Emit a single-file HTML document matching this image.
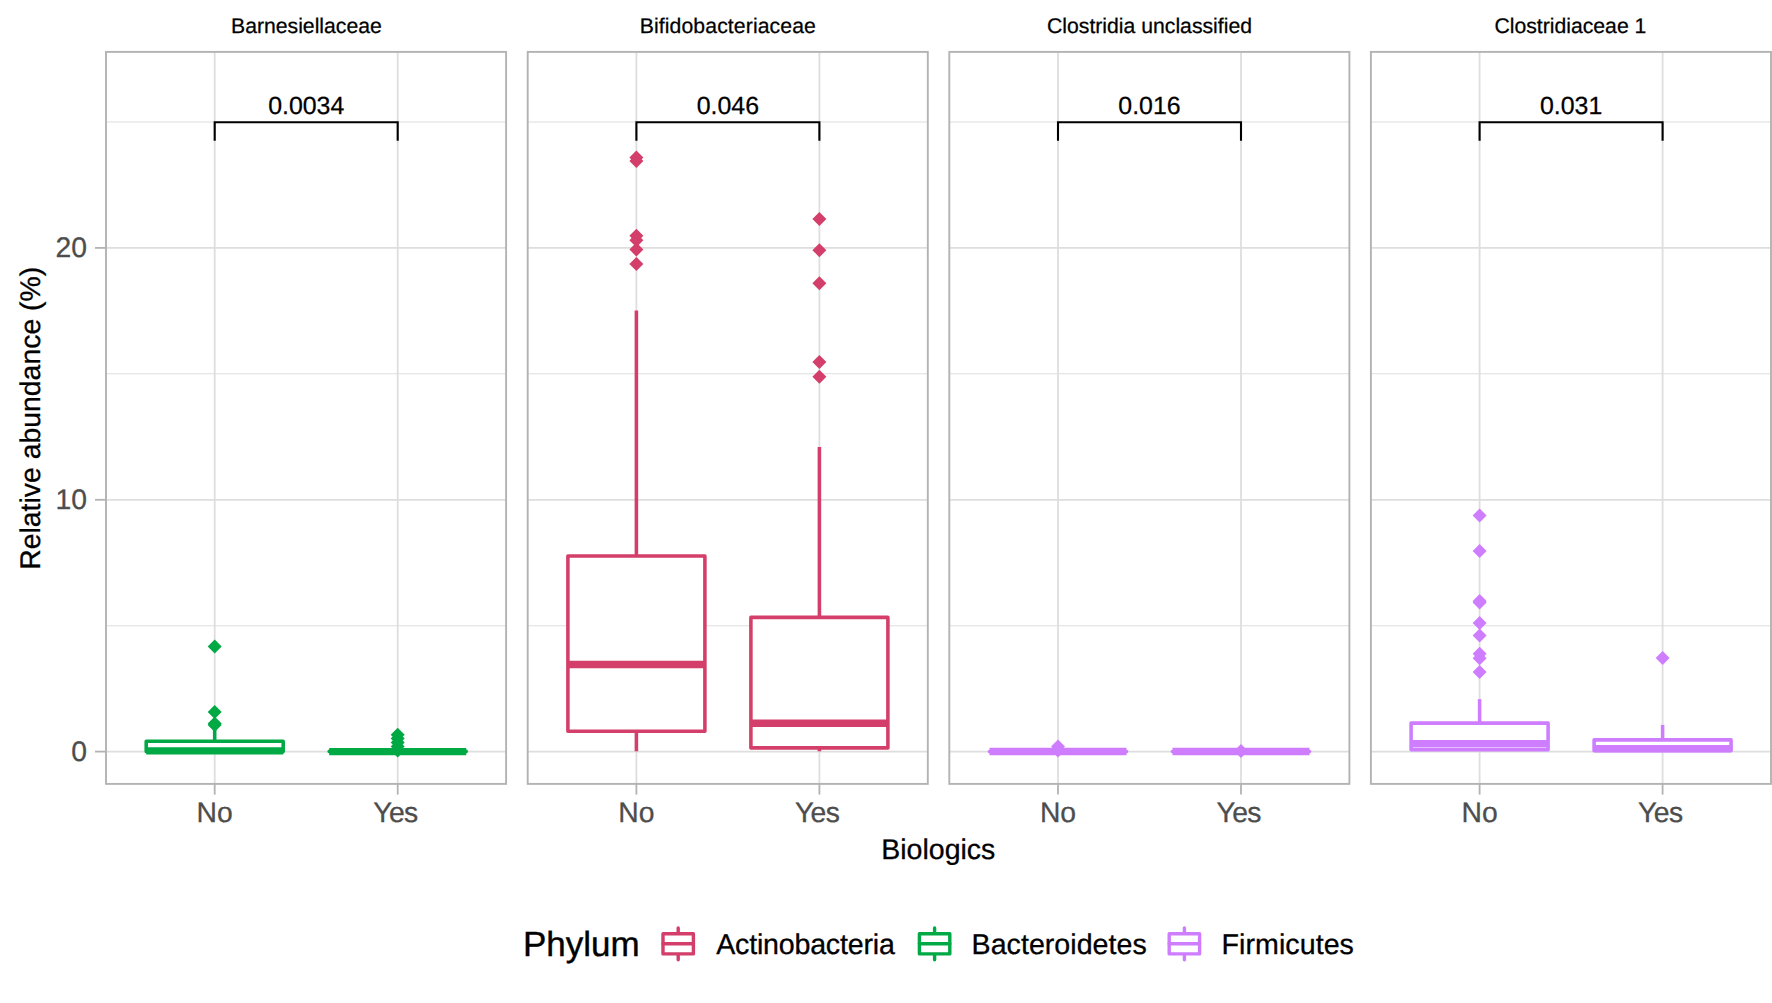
<!DOCTYPE html>
<html lang="en">
<head>
<meta charset="utf-8">
<title>Relative abundance by Biologics</title>
<style>
html,body{margin:0;padding:0;background:#fff;}
body{width:1772px;height:1003px;overflow:hidden;}
svg{display:block;}
svg text{font-family:"Liberation Sans", Arial, Helvetica, sans-serif;text-rendering:geometricPrecision;}
.strip{font-size:21.2px;fill:#000;stroke:#000;stroke-width:0.25px;text-anchor:middle;}
.tick{font-size:28.3px;fill:#4D4D4D;stroke:#4D4D4D;stroke-width:0.3px;}
.atitle{font-size:28.5px;fill:#000;stroke:#000;stroke-width:0.3px;text-anchor:middle;}
.pv{font-size:24.9px;fill:#000;stroke:#000;stroke-width:0.25px;text-anchor:middle;}
.ltitle{font-size:35.0px;fill:#000;stroke:#000;stroke-width:0.4px;}
.ltext{font-size:28.6px;fill:#000;stroke:#000;stroke-width:0.3px;}
</style>
</head>
<body>
<svg width="1772" height="1003" viewBox="0 0 1772 1003">
<rect x="0" y="0" width="1772" height="1003" fill="#ffffff"/>
<g>
<line x1="106.0" y1="625.7" x2="506.1" y2="625.7" stroke="#DEDEDE" stroke-width="1.1"/>
<line x1="106.0" y1="373.8" x2="506.1" y2="373.8" stroke="#DEDEDE" stroke-width="1.1"/>
<line x1="106.0" y1="122.0" x2="506.1" y2="122.0" stroke="#DEDEDE" stroke-width="1.1"/>
<line x1="106.0" y1="751.6" x2="506.1" y2="751.6" stroke="#DEDEDE" stroke-width="1.8"/>
<line x1="106.0" y1="499.8" x2="506.1" y2="499.8" stroke="#DEDEDE" stroke-width="1.8"/>
<line x1="106.0" y1="247.9" x2="506.1" y2="247.9" stroke="#DEDEDE" stroke-width="1.8"/>
<line x1="214.7" y1="51.9" x2="214.7" y2="783.9" stroke="#DEDEDE" stroke-width="1.8"/>
<line x1="397.7" y1="51.9" x2="397.7" y2="783.9" stroke="#DEDEDE" stroke-width="1.8"/>
<line x1="214.7" y1="729.5" x2="214.7" y2="741.2" stroke="#00A944" stroke-width="3.56"/>
<rect x="146.2" y="741.20" width="137.0" height="10.40" fill="#ffffff" stroke="#00A944" stroke-width="3.56" stroke-linejoin="round"/>
<line x1="146.2" y1="750.90" x2="283.2" y2="750.90" stroke="#00A944" stroke-width="7.40"/>
<path d="M214.7 639.6L221.7 646.6L214.7 653.6L207.7 646.6Z" fill="#00A944"/>
<path d="M214.7 704.9L221.7 711.9L214.7 718.9L207.7 711.9Z" fill="#00A944"/>
<path d="M214.7 716.6L221.7 723.6L214.7 730.6L207.7 723.6Z" fill="#00A944"/>
<path d="M214.7 718.0L221.7 725.0L214.7 732.0L207.7 725.0Z" fill="#00A944"/>
<rect x="329.2" y="751.40" width="137.0" height="0.20" fill="#ffffff" stroke="#00A944" stroke-width="3.56" stroke-linejoin="round"/>
<line x1="329.2" y1="751.60" x2="466.2" y2="751.60" stroke="#00A944" stroke-width="7.40"/>
<path d="M397.7 727.8L404.7 734.8L397.7 741.8L390.7 734.8Z" fill="#00A944"/>
<path d="M397.7 731.5L404.7 738.5L397.7 745.5L390.7 738.5Z" fill="#00A944"/>
<path d="M397.7 735.5L404.7 742.5L397.7 749.5L390.7 742.5Z" fill="#00A944"/>
<path d="M397.7 739.5L404.7 746.5L397.7 753.5L390.7 746.5Z" fill="#00A944"/>
<path d="M397.7 743.4L404.7 750.4L397.7 757.4L390.7 750.4Z" fill="#00A944"/>
<path d="M214.7 140.8V122.2H397.7V140.8" fill="none" stroke="#000" stroke-width="2.1"/>
<text class="pv" x="306.2" y="114.3">0.0034</text>
<rect x="106.0" y="51.9" width="400.1" height="732.0" fill="none" stroke="#B3B3B3" stroke-width="1.9"/>
<text class="strip" x="306.4" y="33.3">Barnesiellaceae</text>
<line x1="214.7" y1="783.9" x2="214.7" y2="794.6" stroke="#B3B3B3" stroke-width="1.8"/>
<text class="tick" text-anchor="middle" x="214.7" y="822.4">No</text>
<line x1="397.7" y1="783.9" x2="397.7" y2="794.6" stroke="#B3B3B3" stroke-width="1.8"/>
<text class="tick" text-anchor="middle" style="letter-spacing:-0.6px" x="395.4" y="822.4">Yes</text>
</g>
<g>
<line x1="527.7" y1="625.7" x2="927.8" y2="625.7" stroke="#DEDEDE" stroke-width="1.1"/>
<line x1="527.7" y1="373.8" x2="927.8" y2="373.8" stroke="#DEDEDE" stroke-width="1.1"/>
<line x1="527.7" y1="122.0" x2="927.8" y2="122.0" stroke="#DEDEDE" stroke-width="1.1"/>
<line x1="527.7" y1="751.6" x2="927.8" y2="751.6" stroke="#DEDEDE" stroke-width="1.8"/>
<line x1="527.7" y1="499.8" x2="927.8" y2="499.8" stroke="#DEDEDE" stroke-width="1.8"/>
<line x1="527.7" y1="247.9" x2="927.8" y2="247.9" stroke="#DEDEDE" stroke-width="1.8"/>
<line x1="636.4" y1="51.9" x2="636.4" y2="783.9" stroke="#DEDEDE" stroke-width="1.8"/>
<line x1="819.4" y1="51.9" x2="819.4" y2="783.9" stroke="#DEDEDE" stroke-width="1.8"/>
<line x1="636.4" y1="310.5" x2="636.4" y2="556.0" stroke="#D33F6A" stroke-width="3.56"/>
<line x1="636.4" y1="731.2" x2="636.4" y2="751.3" stroke="#D33F6A" stroke-width="3.56"/>
<rect x="567.9" y="556.00" width="137.0" height="175.20" fill="#ffffff" stroke="#D33F6A" stroke-width="3.56" stroke-linejoin="round"/>
<line x1="567.9" y1="664.50" x2="704.9" y2="664.50" stroke="#D33F6A" stroke-width="7.40"/>
<path d="M636.4 150.5L643.4 157.5L636.4 164.5L629.4 157.5Z" fill="#D33F6A"/>
<path d="M636.4 153.9L643.4 160.9L636.4 167.9L629.4 160.9Z" fill="#D33F6A"/>
<path d="M636.4 228.7L643.4 235.7L636.4 242.7L629.4 235.7Z" fill="#D33F6A"/>
<path d="M636.4 233.3L643.4 240.3L636.4 247.3L629.4 240.3Z" fill="#D33F6A"/>
<path d="M636.4 242.6L643.4 249.6L636.4 256.6L629.4 249.6Z" fill="#D33F6A"/>
<path d="M636.4 257.0L643.4 264.0L636.4 271.0L629.4 264.0Z" fill="#D33F6A"/>
<line x1="819.4" y1="446.9" x2="819.4" y2="617.4" stroke="#D33F6A" stroke-width="3.56"/>
<line x1="819.4" y1="747.9" x2="819.4" y2="751.3" stroke="#D33F6A" stroke-width="3.56"/>
<rect x="750.9" y="617.40" width="137.0" height="130.50" fill="#ffffff" stroke="#D33F6A" stroke-width="3.56" stroke-linejoin="round"/>
<line x1="750.9" y1="723.30" x2="887.9" y2="723.30" stroke="#D33F6A" stroke-width="7.40"/>
<path d="M819.4 211.9L826.4 218.9L819.4 225.9L812.4 218.9Z" fill="#D33F6A"/>
<path d="M819.4 243.2L826.4 250.2L819.4 257.2L812.4 250.2Z" fill="#D33F6A"/>
<path d="M819.4 276.3L826.4 283.3L819.4 290.3L812.4 283.3Z" fill="#D33F6A"/>
<path d="M819.4 354.9L826.4 361.9L819.4 368.9L812.4 361.9Z" fill="#D33F6A"/>
<path d="M819.4 369.8L826.4 376.8L819.4 383.8L812.4 376.8Z" fill="#D33F6A"/>
<path d="M636.4 140.8V122.2H819.4V140.8" fill="none" stroke="#000" stroke-width="2.1"/>
<text class="pv" x="727.9" y="114.3">0.046</text>
<rect x="527.7" y="51.9" width="400.1" height="732.0" fill="none" stroke="#B3B3B3" stroke-width="1.9"/>
<text class="strip" x="727.8" y="33.3" textLength="176.2">Bifidobacteriaceae</text>
<line x1="636.4" y1="783.9" x2="636.4" y2="794.6" stroke="#B3B3B3" stroke-width="1.8"/>
<text class="tick" text-anchor="middle" x="636.4" y="822.4">No</text>
<line x1="819.4" y1="783.9" x2="819.4" y2="794.6" stroke="#B3B3B3" stroke-width="1.8"/>
<text class="tick" text-anchor="middle" style="letter-spacing:-0.6px" x="817.1" y="822.4">Yes</text>
</g>
<g>
<line x1="949.3" y1="625.7" x2="1349.4" y2="625.7" stroke="#DEDEDE" stroke-width="1.1"/>
<line x1="949.3" y1="373.8" x2="1349.4" y2="373.8" stroke="#DEDEDE" stroke-width="1.1"/>
<line x1="949.3" y1="122.0" x2="1349.4" y2="122.0" stroke="#DEDEDE" stroke-width="1.1"/>
<line x1="949.3" y1="751.6" x2="1349.4" y2="751.6" stroke="#DEDEDE" stroke-width="1.8"/>
<line x1="949.3" y1="499.8" x2="1349.4" y2="499.8" stroke="#DEDEDE" stroke-width="1.8"/>
<line x1="949.3" y1="247.9" x2="1349.4" y2="247.9" stroke="#DEDEDE" stroke-width="1.8"/>
<line x1="1058.0" y1="51.9" x2="1058.0" y2="783.9" stroke="#DEDEDE" stroke-width="1.8"/>
<line x1="1241.0" y1="51.9" x2="1241.0" y2="783.9" stroke="#DEDEDE" stroke-width="1.8"/>
<rect x="989.5" y="751.50" width="137.0" height="0.10" fill="#ffffff" stroke="#CE7DFF" stroke-width="3.56" stroke-linejoin="round"/>
<line x1="989.5" y1="751.55" x2="1126.5" y2="751.55" stroke="#CE7DFF" stroke-width="7.40"/>
<path d="M1058.0 739.6L1065.0 746.6L1058.0 753.6L1051.0 746.6Z" fill="#CE7DFF"/>
<path d="M1058.0 743.5L1065.0 750.5L1058.0 757.5L1051.0 750.5Z" fill="#CE7DFF"/>
<rect x="1172.5" y="751.50" width="137.0" height="0.10" fill="#ffffff" stroke="#CE7DFF" stroke-width="3.56" stroke-linejoin="round"/>
<line x1="1172.5" y1="751.55" x2="1309.5" y2="751.55" stroke="#CE7DFF" stroke-width="7.40"/>
<path d="M1241.0 744.1L1248.0 751.1L1241.0 758.1L1234.0 751.1Z" fill="#CE7DFF"/>
<path d="M1058.0 140.8V122.2H1241.0V140.8" fill="none" stroke="#000" stroke-width="2.1"/>
<text class="pv" x="1149.5" y="114.3">0.016</text>
<rect x="949.3" y="51.9" width="400.1" height="732.0" fill="none" stroke="#B3B3B3" stroke-width="1.9"/>
<text class="strip" x="1149.5" y="33.3">Clostridia unclassified</text>
<line x1="1058.0" y1="783.9" x2="1058.0" y2="794.6" stroke="#B3B3B3" stroke-width="1.8"/>
<text class="tick" text-anchor="middle" x="1058.0" y="822.4">No</text>
<line x1="1241.0" y1="783.9" x2="1241.0" y2="794.6" stroke="#B3B3B3" stroke-width="1.8"/>
<text class="tick" text-anchor="middle" style="letter-spacing:-0.6px" x="1238.7" y="822.4">Yes</text>
</g>
<g>
<line x1="1370.9" y1="625.7" x2="1771.0" y2="625.7" stroke="#DEDEDE" stroke-width="1.1"/>
<line x1="1370.9" y1="373.8" x2="1771.0" y2="373.8" stroke="#DEDEDE" stroke-width="1.1"/>
<line x1="1370.9" y1="122.0" x2="1771.0" y2="122.0" stroke="#DEDEDE" stroke-width="1.1"/>
<line x1="1370.9" y1="751.6" x2="1771.0" y2="751.6" stroke="#DEDEDE" stroke-width="1.8"/>
<line x1="1370.9" y1="499.8" x2="1771.0" y2="499.8" stroke="#DEDEDE" stroke-width="1.8"/>
<line x1="1370.9" y1="247.9" x2="1771.0" y2="247.9" stroke="#DEDEDE" stroke-width="1.8"/>
<line x1="1479.6" y1="51.9" x2="1479.6" y2="783.9" stroke="#DEDEDE" stroke-width="1.8"/>
<line x1="1662.6" y1="51.9" x2="1662.6" y2="783.9" stroke="#DEDEDE" stroke-width="1.8"/>
<line x1="1479.6" y1="699.1" x2="1479.6" y2="723.1" stroke="#CE7DFF" stroke-width="3.56"/>
<rect x="1411.1" y="723.10" width="137.0" height="26.70" fill="#ffffff" stroke="#CE7DFF" stroke-width="3.56" stroke-linejoin="round"/>
<line x1="1411.1" y1="743.70" x2="1548.1" y2="743.70" stroke="#CE7DFF" stroke-width="7.40"/>
<path d="M1479.6 508.4L1486.6 515.4L1479.6 522.4L1472.6 515.4Z" fill="#CE7DFF"/>
<path d="M1479.6 544.1L1486.6 551.1L1479.6 558.1L1472.6 551.1Z" fill="#CE7DFF"/>
<path d="M1479.6 594.0L1486.6 601.0L1479.6 608.0L1472.6 601.0Z" fill="#CE7DFF"/>
<path d="M1479.6 595.6L1486.6 602.6L1479.6 609.6L1472.6 602.6Z" fill="#CE7DFF"/>
<path d="M1479.6 616.0L1486.6 623.0L1479.6 630.0L1472.6 623.0Z" fill="#CE7DFF"/>
<path d="M1479.6 628.5L1486.6 635.5L1479.6 642.5L1472.6 635.5Z" fill="#CE7DFF"/>
<path d="M1479.6 646.7L1486.6 653.7L1479.6 660.7L1472.6 653.7Z" fill="#CE7DFF"/>
<path d="M1479.6 651.3L1486.6 658.3L1479.6 665.3L1472.6 658.3Z" fill="#CE7DFF"/>
<path d="M1479.6 665.0L1486.6 672.0L1479.6 679.0L1472.6 672.0Z" fill="#CE7DFF"/>
<line x1="1662.6" y1="724.9" x2="1662.6" y2="739.9" stroke="#CE7DFF" stroke-width="3.56"/>
<rect x="1594.1" y="739.90" width="137.0" height="10.90" fill="#ffffff" stroke="#CE7DFF" stroke-width="3.56" stroke-linejoin="round"/>
<line x1="1594.1" y1="748.60" x2="1731.1" y2="748.60" stroke="#CE7DFF" stroke-width="7.40"/>
<path d="M1662.6 651.0L1669.6 658.0L1662.6 665.0L1655.6 658.0Z" fill="#CE7DFF"/>
<path d="M1479.6 140.8V122.2H1662.6V140.8" fill="none" stroke="#000" stroke-width="2.1"/>
<text class="pv" x="1571.1" y="114.3">0.031</text>
<rect x="1370.9" y="51.9" width="400.1" height="732.0" fill="none" stroke="#B3B3B3" stroke-width="1.9"/>
<text class="strip" x="1570.4" y="33.3">Clostridiaceae 1</text>
<line x1="1479.6" y1="783.9" x2="1479.6" y2="794.6" stroke="#B3B3B3" stroke-width="1.8"/>
<text class="tick" text-anchor="middle" x="1479.6" y="822.4">No</text>
<line x1="1662.6" y1="783.9" x2="1662.6" y2="794.6" stroke="#B3B3B3" stroke-width="1.8"/>
<text class="tick" text-anchor="middle" style="letter-spacing:-0.6px" x="1660.3" y="822.4">Yes</text>
</g>
<line x1="95" y1="751.6" x2="105.5" y2="751.6" stroke="#B3B3B3" stroke-width="1.8"/>
<text class="tick" text-anchor="end" x="87.0" y="761.1">0</text>
<line x1="95" y1="499.8" x2="105.5" y2="499.8" stroke="#B3B3B3" stroke-width="1.8"/>
<text class="tick" text-anchor="end" x="87.0" y="509.2">10</text>
<line x1="95" y1="247.9" x2="105.5" y2="247.9" stroke="#B3B3B3" stroke-width="1.8"/>
<text class="tick" text-anchor="end" x="87.0" y="257.4">20</text>
<text class="atitle" style="font-size:28.4px" transform="translate(40 418.3) rotate(-90)">Relative abundance (%)</text>
<text class="atitle" x="938.3" y="859.1">Biologics</text>
<text class="ltitle" x="523" y="956.3">Phylum</text>
<g stroke="#D33F6A" stroke-width="3.4" fill="none" stroke-linecap="round" stroke-linejoin="round"><line x1="678.2" y1="928" x2="678.2" y2="933.8"/><line x1="678.2" y1="953.9" x2="678.2" y2="959.8"/><rect x="663.0" y="933.8" width="30.4" height="20.1" fill="#fff"/><line x1="663.0" y1="943.8" x2="693.4" y2="943.8"/></g>
<text class="ltext" x="716.2" y="953.7" textLength="178.6">Actinobacteria</text>
<g stroke="#00A944" stroke-width="3.4" fill="none" stroke-linecap="round" stroke-linejoin="round"><line x1="934.6" y1="928" x2="934.6" y2="933.8"/><line x1="934.6" y1="953.9" x2="934.6" y2="959.8"/><rect x="919.4" y="933.8" width="30.4" height="20.1" fill="#fff"/><line x1="919.4" y1="943.8" x2="949.8" y2="943.8"/></g>
<text class="ltext" x="971.6" y="953.7" textLength="175.1">Bacteroidetes</text>
<g stroke="#CE7DFF" stroke-width="3.4" fill="none" stroke-linecap="round" stroke-linejoin="round"><line x1="1184.4" y1="928" x2="1184.4" y2="933.8"/><line x1="1184.4" y1="953.9" x2="1184.4" y2="959.8"/><rect x="1169.2" y="933.8" width="30.4" height="20.1" fill="#fff"/><line x1="1169.2" y1="943.8" x2="1199.6" y2="943.8"/></g>
<text class="ltext" x="1221.6" y="953.7" textLength="132.3">Firmicutes</text>
</svg>
</body>
</html>
